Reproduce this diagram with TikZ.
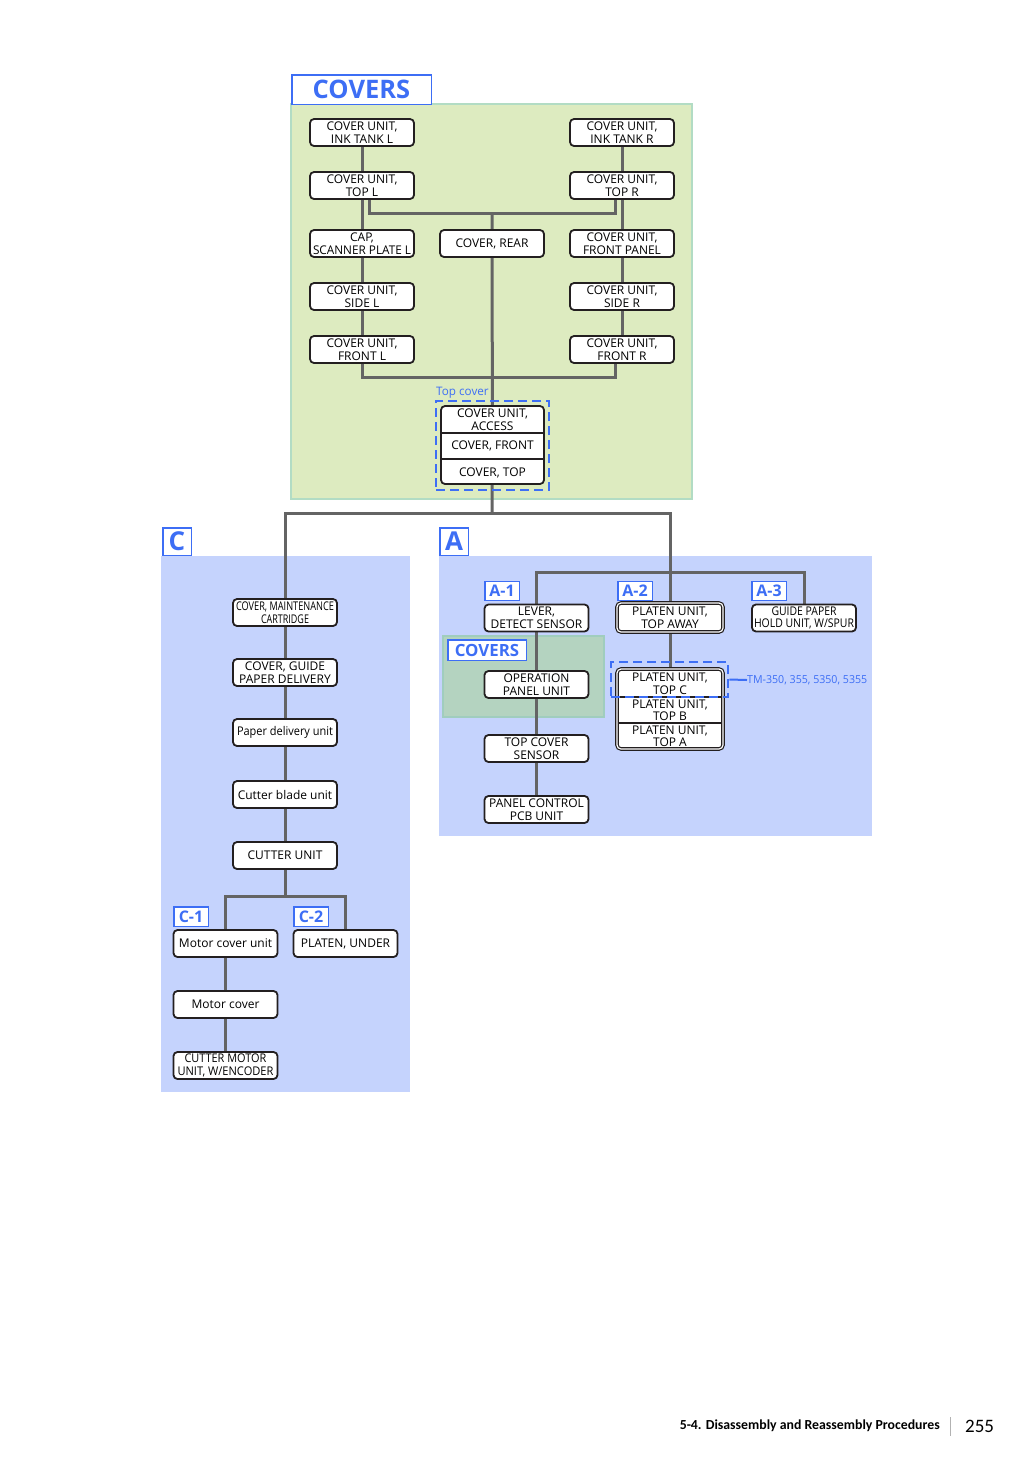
\documentclass[tikz,border=0pt]{standalone}
\usepackage{graphicx}
\usepackage{fontspec}
\setmainfont{Open Sans}
\newfontfamily\footfont{Carlito}
\usetikzlibrary{fit}
\definecolor{blueC}{RGB}{61,110,245}
\definecolor{boxC}{RGB}{35,31,32}
\definecolor{lineC}{RGB}{100,100,100}
\definecolor{greenF}{RGB}{221,235,192}
\definecolor{greenD}{RGB}{178,220,196}
\definecolor{blueF}{RGB}{197,211,253}
\definecolor{green2F}{RGB}{180,211,192}
\definecolor{green2D}{RGB}{160,205,190}
\newcommand{\fw}[2]{\resizebox{#1pt}{\height}{#2}}
\pgfdeclarelayer{bg}
\pgfdeclarelayer{lines}
\pgfsetlayers{bg,lines,main}
\tikzset{
  part/.style={draw=boxC, line width=1.8pt, fill=white, rounded corners=4pt,
    minimum width=104, minimum height=27, inner sep=0pt, align=center,
    font=\fontsize{12}{12.5}\selectfont},
  dpart/.style={draw=boxC, line width=1.2pt, double=white, double distance=1.2pt,
    fill=white, rounded corners=4pt, minimum width=106, minimum height=29,
    inner sep=0pt, align=center, font=\fontsize{12}{12.5}\selectfont},
  txt/.style={inner sep=0pt, align=center, font=\fontsize{12}{12.5}\selectfont},
  lab/.style={draw=blueC, line width=1.5pt, fill=white, text=blueC, inner sep=0pt,
    font=\bfseries\fontsize{16}{16}\selectfont},
  conn/.style={draw=lineC, line width=3pt},
  dashbox/.style={draw=blueC, line width=2.6pt, dash pattern=on 9pt off 5pt, inner sep=0pt},
  region/.style={line width=1.5pt},
}
\begin{document}
\begin{tikzpicture}[x=1pt,y=-1pt]
\useasboundingbox (0,0) rectangle (1034,1462);

% regions
\begin{pgfonlayer}{bg}
\fill[white] (0,0) rectangle (1034,1462);
\filldraw[region, fill=greenF, draw=greenD] (291,104) rectangle (692,499);
\fill[blueF] (161,556) rectangle (410,1092);
\fill[blueF] (439,556) rectangle (872,836);
\filldraw[region, fill=green2F, draw=green2D] (443,636) rectangle (604,717);
\end{pgfonlayer}

% ---------- COVERS ----------
\node[lab, minimum width=139.5, minimum height=29.5, font=\bfseries\fontsize{25.5}{25.5}\selectfont] (covT) at (361.5,89.5) {COVERS};
\node[part] (inkL) at (362,132.5) {COVER UNIT,\\INK TANK L};
\node[part] (inkR) at (622,132.5) {COVER UNIT,\\INK TANK R};
\node[part] (topL) at (362,185.5) {COVER UNIT,\\TOP L};
\node[part] (topR) at (622,185.5) {COVER UNIT,\\TOP R};
\node[part] (capL) at (362,243.5) {CAP,\\\fw{98}{SCANNER PLATE L}};
\node[part] (rear) at (492,243.5) {COVER, REAR};
\node[part] (panelF) at (622,243.5) {COVER UNIT,\\FRONT PANEL};
\node[part] (sideL) at (362,296.5) {COVER UNIT,\\SIDE L};
\node[part] (sideR) at (622,296.5) {COVER UNIT,\\SIDE R};
\node[part] (frontL) at (362,349.5) {COVER UNIT,\\FRONT L};
\node[part] (frontR) at (622,349.5) {COVER UNIT,\\FRONT R};

\node[dashbox, minimum width=113, minimum height=89] (tcgroup) at (492.5,445.5) {};
\node[anchor=south west, inner sep=0pt, text=blueC, font=\fontsize{11.7}{12}\selectfont] (tclabel) at (436,399) {Top cover};
\node[part, minimum width=103, minimum height=78] (tstack) at (492.5,445) {};
\coordinate (tcd1) at (0,433);
\coordinate (tcd2) at (0,459);
\draw[boxC, line width=1.2pt] (tstack.west |- tcd1) -- (tstack.east |- tcd1);
\draw[boxC, line width=1.2pt] (tstack.west |- tcd2) -- (tstack.east |- tcd2);
\node[txt] (tca) at (492.5,419.5) {COVER UNIT,\\ACCESS};
\node[txt] (tcf) at (492.5,446) {COVER, FRONT};
\node[txt] (tct) at (492.5,472.5) {COVER, TOP};

\coordinate (jtop) at (492,214);
\coordinate (jmain) at (492,513);
\begin{pgfonlayer}{lines}
\draw[conn] (inkL) -- (topL) -- (capL) -- (sideL) -- (frontL);
\draw[conn] (inkR) -- (topR) -- (panelF) -- (sideR) -- (frontR);
\draw[conn] ([xshift=7pt]topL.south) -- ++(0,14) -| ([xshift=-7pt]topR.south);
\draw[conn] (jtop) -- (rear) -- (tstack) -- (jmain);
\draw[conn] (frontL.south) -- ++(0,14) -| ([xshift=-7pt]frontR.south);
\end{pgfonlayer}

% ---------- C ----------
\node[lab, minimum width=28.5, minimum height=27.5, font=\bfseries\fontsize{26}{26}\selectfont] (labC) at (177,541.5) {C};
\node[part] (maint) at (285,612.5) {\fw{98}{COVER, MAINTENANCE}\\\fw{48}{CARTRIDGE}};
\node[part] (guideD) at (285,672.5) {COVER, GUIDE\\PAPER DELIVERY};
\node[part] (pdel) at (285,732.5) {\fw{96}{Paper delivery unit}};
\node[part] (cblade) at (285,794.5) {Cutter blade unit};
\node[part] (cutter) at (285,855.5) {CUTTER UNIT};
\node[lab, minimum width=34.5, minimum height=19.5] (labC1) at (191,916.5) {C-1};
\node[lab, minimum width=34.5, minimum height=19.5] (labC2) at (311,916.5) {C-2};
\node[part] (mcu) at (225.5,943.5) {Motor cover unit};
\node[part] (platenU) at (345.5,943.5) {PLATEN, UNDER};
\node[part] (mcover) at (225.5,1004.5) {Motor cover};
\node[part] (cmotor) at (225.5,1065.5) {\fw{82}{CUTTER MOTOR}\\\fw{96}{UNIT, W/ENCODER}};
\coordinate (jC) at (285,896);

% ---------- A ----------
\node[lab, minimum width=28.5, minimum height=27.5, font=\bfseries\fontsize{26}{26}\selectfont] (labA) at (454,541.5) {A};
\node[lab, minimum width=34.5, minimum height=19] (labA1) at (502,591) {A-1};
\node[lab, minimum width=34.5, minimum height=19] (labA2) at (635,591) {A-2};
\node[lab, minimum width=34.5, minimum height=19] (labA3) at (769,591) {A-3};
\node[part] (lever) at (536.5,618) {LEVER,\\DETECT SENSOR};
\node[dpart] (away) at (670,617.5) {PLATEN UNIT,\\TOP AWAY};
\node[part] (guideP) at (804,618) {\fw{65}{GUIDE PAPER}\\\fw{100}{HOLD UNIT, W/SPUR}};
\node[lab, minimum width=78.5, minimum height=20.5, font=\bfseries\fontsize{16.8}{16.8}\selectfont] (covA) at (487,650) {COVERS};
\node[part] (oper) at (536.5,684.5) {OPERATION\\PANEL UNIT};
\node[part] (topcs) at (536.5,748.5) {TOP COVER\\SENSOR};
\node[part] (pcb) at (536.5,809.5) {PANEL CONTROL\\PCB UNIT};
\node[dpart, minimum height=80] (pstack) at (670,709) {};
\coordinate (pd1) at (0,697);
\coordinate (pd2) at (0,723);
\draw[boxC, line width=1.2pt] ([xshift=2pt]pstack.west |- pd1) -- ([xshift=-2pt]pstack.east |- pd1);
\draw[boxC, line width=1.2pt] ([xshift=2pt]pstack.west |- pd2) -- ([xshift=-2pt]pstack.east |- pd2);
\node[txt] (ptc) at (670,683.5) {PLATEN UNIT,\\TOP C};
\node[txt] (ptb) at (670,710) {PLATEN UNIT,\\TOP B};
\node[txt] (pta) at (670,736) {PLATEN UNIT,\\TOP A};
\node[dashbox, minimum width=117, minimum height=35] (tmgroup) at (669.5,679.5) {};
\node[anchor=west, inner sep=0pt, text=blueC, font=\fontsize{11}{12}\selectfont] (tmlabel) at (747,680) {\fw{120}{TM-350, 355, 5350, 5355}};
\draw[blueC, line width=2pt] (tmgroup.east) -- (tmlabel.west);
\coordinate (jA) at (670,572);

\begin{pgfonlayer}{lines}
\draw[conn] (maint) |- (jmain) -| (away);
\draw[conn] (maint) -- (guideD) -- (pdel) -- (cblade) -- (cutter) -- (jC);
\draw[conn] (mcu) |- (jC) -| (platenU);
\draw[conn] (mcu) -- (mcover) -- (cmotor);
\draw[conn] (lever) |- (jA) -| (guideP);
\draw[conn] (lever) -- (oper) -- (topcs) -- (pcb);
\draw[conn] (away) -- (pstack);
\end{pgfonlayer}

% ---------- footer ----------
\node[anchor=east, inner sep=0pt, font=\footfont\bfseries\fontsize{13.8}{15}\selectfont] (foot) at (940,1426) {5-4. Disassembly and Reassembly Procedures};
\draw[black!30, line width=1pt] ([xshift=10pt]foot.east |- 0,1417) -- ([xshift=10pt]foot.east |- 0,1436);
\node[anchor=west, inner sep=0pt, font=\footfont\fontsize{19}{20}\selectfont] (pg) at (965,1426) {255};
\end{tikzpicture}
\end{document}
